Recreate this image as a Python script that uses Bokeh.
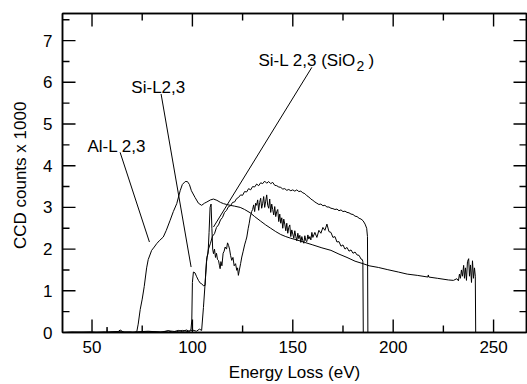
from bokeh.plotting import figure
from bokeh.models import LinearAxis, SingleIntervalTicker, Range1d, CustomJSTickFormatter
from bokeh.core.properties import value
from bokeh.embed import file_html
from bokeh.resources import INLINE

# ---------------- data ----------------
al_x = [35.5, 40, 45, 49, 52, 56, 57.3, 57.5, 57.7, 60, 63, 64, 65, 66, 69, 71, 72.3,
        73, 74, 75, 76, 77.2, 78, 79.7, 81, 82.2, 83.5, 85.5, 87, 88.9, 90.5, 92.2, 93.9,
        95, 96.4, 97.5, 98.5, 99.5, 101.3, 103, 104.6, 106, 107.2, 109, 110.5, 112.2, 114,
        115.5, 117, 118.8, 121, 123.8, 126, 128.8, 131, 134, 136.5, 139, 141.5, 144, 146.5,
        149, 152, 156, 160, 164.5, 169, 173, 177, 181, 185, 188, 192.6, 197, 202.6, 207,
        212, 217.3, 217.5, 217.7, 222, 227.5, 230, 231.7, 232.5, 233, 233.5, 234, 234.5,
        235.1, 235.5, 236, 236.5, 237, 237.6, 238, 238.5, 239, 239.5, 240, 240.5, 240.9,
        241.1, 243]
al_y = [0, 0.01, 0, 0.01, 0, 0.01, 0, 0.13, 0, 0.01, 0.02, 0.06, 0.03, 0, 0.01, 0, 0.02,
        0.2, 0.55, 0.8, 1.1, 1.55, 1.75, 1.97, 2.05, 2.13, 2.2, 2.29, 2.45, 2.69, 2.9, 3.09, 3.4,
        3.55, 3.62, 3.62, 3.55, 3.4, 3.24, 3.1, 3.05, 3.1, 3.13, 3.18, 3.2, 3.17, 3.12,
        3.09, 3.07, 3.05, 3.03, 3.0, 2.95, 2.87, 2.78, 2.67, 2.58, 2.5, 2.42, 2.35, 2.3,
        2.26, 2.22, 2.16, 2.1, 2.03, 1.97, 1.88, 1.8, 1.71, 1.65, 1.6, 1.56, 1.51, 1.45, 1.4,
        1.37, 1.33, 1.38, 1.33, 1.3, 1.26, 1.25, 1.29, 1.24, 1.4, 1.3, 1.5, 1.35,
        1.61, 1.3, 1.55, 1.25, 1.7, 1.77, 1.35, 1.62, 1.2, 1.72, 1.3, 1.55, 1.35,
        0, 0]

si_x = [35.5, 60, 70, 80, 85, 88, 90, 93, 95, 97,
        98.5, 99.3, 99.7, 100, 100.5, 101.3, 102, 103, 104, 104.6,
        105.5, 106.3, 106.6, 107,
        108, 109, 110, 111, 112, 113, 114, 115, 116, 117,
        118, 119, 120, 121, 122, 123, 124, 125, 126, 127,
        128, 129, 130, 131, 132, 133, 134, 135, 136, 137,
        138, 139, 140, 141, 142, 143, 144, 145, 146, 147,
        148, 149, 150, 151, 152, 153, 154, 155, 156, 157,
        158, 159, 160, 161, 162, 163, 164, 165, 166, 167,
        168, 169, 170, 171, 172, 173, 174, 175, 176, 177,
        178, 179, 180, 181, 182, 183, 184, 185, 186,
        186.8, 187.2, 187.4, 243]
si_y = [0, 0.01, 0, 0.02, 0.01, 0.04, 0.01, 0.05, 0.02, 0.06,
        0.03, 0.08, 0.3, 1.2, 1.45, 1.43, 1.35, 1.25, 1.18, 1.17,
        1.12, 1.13, 1.4, 1.7,
        2.0, 2.14, 2.31, 2.37, 2.52, 2.58, 2.7, 2.76, 2.88, 2.93,
        3.02, 3.04, 3.12, 3.13, 3.21, 3.24, 3.3, 3.29, 3.38, 3.37,
        3.45, 3.42, 3.5, 3.49, 3.56, 3.52, 3.59, 3.57, 3.63, 3.58,
        3.62, 3.57, 3.6, 3.53, 3.52, 3.49, 3.48, 3.44, 3.45, 3.41,
        3.43, 3.4, 3.42, 3.39, 3.42, 3.38, 3.39, 3.35, 3.33, 3.28,
        3.25, 3.2, 3.17, 3.13, 3.1, 3.07, 3.08, 3.04, 3.05, 3.01,
        3.01, 2.98, 2.97, 2.95, 2.96, 2.92, 2.94, 2.9, 2.91, 2.88,
        2.87, 2.84, 2.83, 2.79, 2.78, 2.74, 2.72, 2.68, 2.6,
        2.5, 2.3, 0, 0]

sio2_x = [35.5, 45, 55, 62, 70, 78, 84, 88, 92, 95,
          98, 100, 102, 103.5, 104.6, 105.5, 106.5, 107.2, 107.8, 108.3,
          108.8, 109.3, 109.7, 110.1, 110.5, 111, 111.5, 112, 112.5, 113,
          113.5, 113.8, 114.2, 114.7, 115.3, 115.8, 116.3, 117, 117.5, 118,
          118.5, 119, 119.6, 120.2, 120.8, 121.5, 122.1, 122.5, 122.9, 123.4,
          124, 124.6, 125.3, 126, 126.6, 127.1, 127.8, 128.3, 128.8, 129.5,
          130, 130.5, 131, 131.5, 132, 132.5, 133, 133.5, 134, 134.5,
          135, 135.5, 136, 136.5, 137, 137.5, 138, 138.5, 139, 139.5,
          140, 140.5, 141, 141.5, 142, 142.5, 143, 143.5, 144, 144.5,
          145, 145.5, 146, 146.5, 147, 147.5, 148, 148.5, 149, 149.5,
          150, 150.5, 151, 151.5, 152, 152.5, 153, 153.5, 154, 154.5,
          155, 155.5, 156, 156.5, 157, 157.5, 158, 158.5, 159, 159.5,
          160, 161, 162, 163, 164, 165, 166, 167, 168, 169,
          170, 171, 172, 173, 174, 175, 176, 177, 178, 179,
          180, 181, 182, 183, 184, 184.6, 184.9, 185.1, 243]
sio2_y = [0, 0.01, 0, 0.02, 0.01, 0.03, 0.01, 0.04, 0.02, 0.05,
          0.02, 0.06, 0.03, 0.08, 0.05, 0.6, 1.3, 1.8, 1.9, 2.4,
          3.0, 3.08, 2.5, 2.0, 1.89, 2.0, 1.8, 1.9, 1.75, 1.73,
          1.6, 1.53, 1.7, 1.6, 1.9, 1.95, 2.05, 2.0, 2.15, 2.09,
          2.0, 1.85, 1.73, 1.8, 1.6, 1.65, 1.49, 1.55, 1.37, 1.5,
          1.65, 1.81, 1.95, 2.1, 2.2, 2.29, 2.5, 2.62, 2.77, 2.9,
          2.95, 3.06, 2.9, 3.1, 3.05, 3.18, 2.93, 3.12, 3.22, 2.98,
          3.1, 3.26, 3.0, 3.15, 3.3, 3.05, 2.98, 3.2, 2.88, 3.08,
          2.95, 2.82, 3.02, 2.78, 2.9, 2.95, 2.66, 2.84, 2.62, 2.75,
          2.5, 2.72, 2.6, 2.44, 2.62, 2.38, 2.52, 2.58, 2.3, 2.46,
          2.36, 2.26, 2.44, 2.3, 2.2, 2.38, 2.25, 2.33, 2.16, 2.3,
          2.2, 2.14, 2.32, 2.2, 2.18, 2.34, 2.24, 2.3, 2.22, 2.4,
          2.28, 2.4, 2.28, 2.45, 2.38, 2.52, 2.45, 2.6, 2.42, 2.4,
          2.28, 2.3, 2.17, 2.18, 2.07, 2.1, 2.0, 2.04, 1.95, 1.98,
          1.9, 1.93, 1.86, 1.85, 1.76, 1.75, 1.7, 0, 0]

# tick positions
x_major = [50, 100, 150, 200, 250]
x_minor = [75, 125, 175, 225]
y_major = [1, 2, 3, 4, 5, 6, 7]
y_minor = [0.5, 1.5, 2.5, 3.5, 4.5, 5.5, 6.5, 7.5]

# annotation labels and their pointer lines
label_text = ["Al-L 2,3", "Si-L2,3", "Si-L 2,3 (SiO"]
label_x = [47.7, 69.6, 132.9]
label_y = [4.46, 5.87, 6.52]
sub_text = ["2"]
close_text = [")"]
ptr_x0 = [64.0, 84.4, 159.5]
ptr_y0 = [4.32, 5.72, 6.36]
ptr_x1 = [78.6, 99.35, 110.5]
ptr_y1 = [2.17, 1.57, 2.53]

x_start, x_end = 35.3, 266.4
y_start, y_end = 0.0, 7.65

FONT = "Liberation Sans"

W, H = 527, 384
BL, BR, BT = 62, 1, 13
p = figure(width=W, height=H, output_backend="svg", toolbar_location=None,
           x_range=Range1d(x_start, x_end), y_range=Range1d(y_start, y_end),
           min_border_left=BL, min_border_right=BR, min_border_top=BT, min_border_bottom=0)
p.background_fill_color = "white"
p.border_fill_color = "white"
p.outline_line_color = "black"
p.outline_line_width = 1.5
p.xgrid.visible = False
p.ygrid.visible = False

def style_axis(ax, show_labels):
    ax.major_tick_in = 0
    ax.major_tick_out = 0
    ax.minor_tick_in = 0
    ax.minor_tick_out = 0
    ax.axis_line_color = "black"
    ax.axis_line_width = 1.5
    if show_labels:
        ax.major_label_text_font = FONT
        ax.major_label_text_font_size = "17px"
        ax.major_label_text_color = "black"
        ax.axis_label_text_font = FONT
        ax.axis_label_text_font_size = "17px"
        ax.axis_label_text_font_style = "normal"
        ax.axis_label_text_color = "black"
    else:
        ax.formatter = CustomJSTickFormatter(code="return ''")
        ax.major_label_text_font_size = "1px"
        ax.major_label_standoff = 0

p.xaxis.ticker = SingleIntervalTicker(interval=50, num_minor_ticks=2)
p.yaxis.ticker = SingleIntervalTicker(interval=1, num_minor_ticks=2)
p.xaxis.axis_label = "Energy Loss (eV)"
p.yaxis.axis_label = "CCD counts  x 1000"
for ax in p.xaxis:
    style_axis(ax, True)
    ax.major_label_standoff = 8
    ax.axis_label_standoff = 7
for ax in p.yaxis:
    style_axis(ax, True)
    ax.major_label_standoff = 10
    ax.axis_label_standoff = 10

top = LinearAxis(ticker=SingleIntervalTicker(interval=50, num_minor_ticks=2))
right = LinearAxis(ticker=SingleIntervalTicker(interval=1, num_minor_ticks=2))
style_axis(top, False)
style_axis(right, False)
p.add_layout(top, "above")
p.add_layout(right, "right")

# inward tick marks on all four sides, as one multi-line (pixel lengths -> data units)
frame_w = W - BL - BR
frame_h = 332 - BT
px_x = (x_end - x_start) / frame_w
px_y = (y_end - y_start) / frame_h
MAJ, MIN = 13, 7
tick_xs, tick_ys = [], []
for xs, L in ((x_major, MAJ), (x_minor, MIN)):
    for t in xs:
        tick_xs += [[t, t], [t, t]]
        tick_ys += [[y_start, y_start + L * px_y], [y_end, y_end - L * px_y]]
for ys, L in ((y_major, MAJ), (y_minor, MIN)):
    for t in ys:
        tick_xs += [[x_start, x_start + L * px_x], [x_end, x_end - L * px_x]]
        tick_ys += [[t, t], [t, t]]
p.multi_line(xs=tick_xs, ys=tick_ys, line_color="black", line_width=1.4)

# spectra
p.line(al_x, al_y, line_color="black", line_width=1)
p.line(si_x, si_y, line_color="black", line_width=1)
p.line(sio2_x, sio2_y, line_color="black", line_width=1)

# pointers and labels
p.segment(x0=ptr_x0, y0=ptr_y0, x1=ptr_x1, y1=ptr_y1, line_color="black", line_width=1)
p.text(x=label_x, y=label_y, text=label_text, text_font=value(FONT),
       text_font_size="17px", text_color="black", text_align="left",
       text_baseline="alphabetic")
p.text(x=label_x[2:], y=label_y[2:], text=sub_text, text_font=value(FONT),
       text_font_size="14px", text_color="black", text_align="left",
       text_baseline="alphabetic", x_offset=98, y_offset=5)
p.text(x=label_x[2:], y=label_y[2:], text=close_text, text_font=value(FONT),
       text_font_size="17px", text_color="black", text_align="left",
       text_baseline="alphabetic", x_offset=110)

open("out.html", "w").write(file_html(p, INLINE))
